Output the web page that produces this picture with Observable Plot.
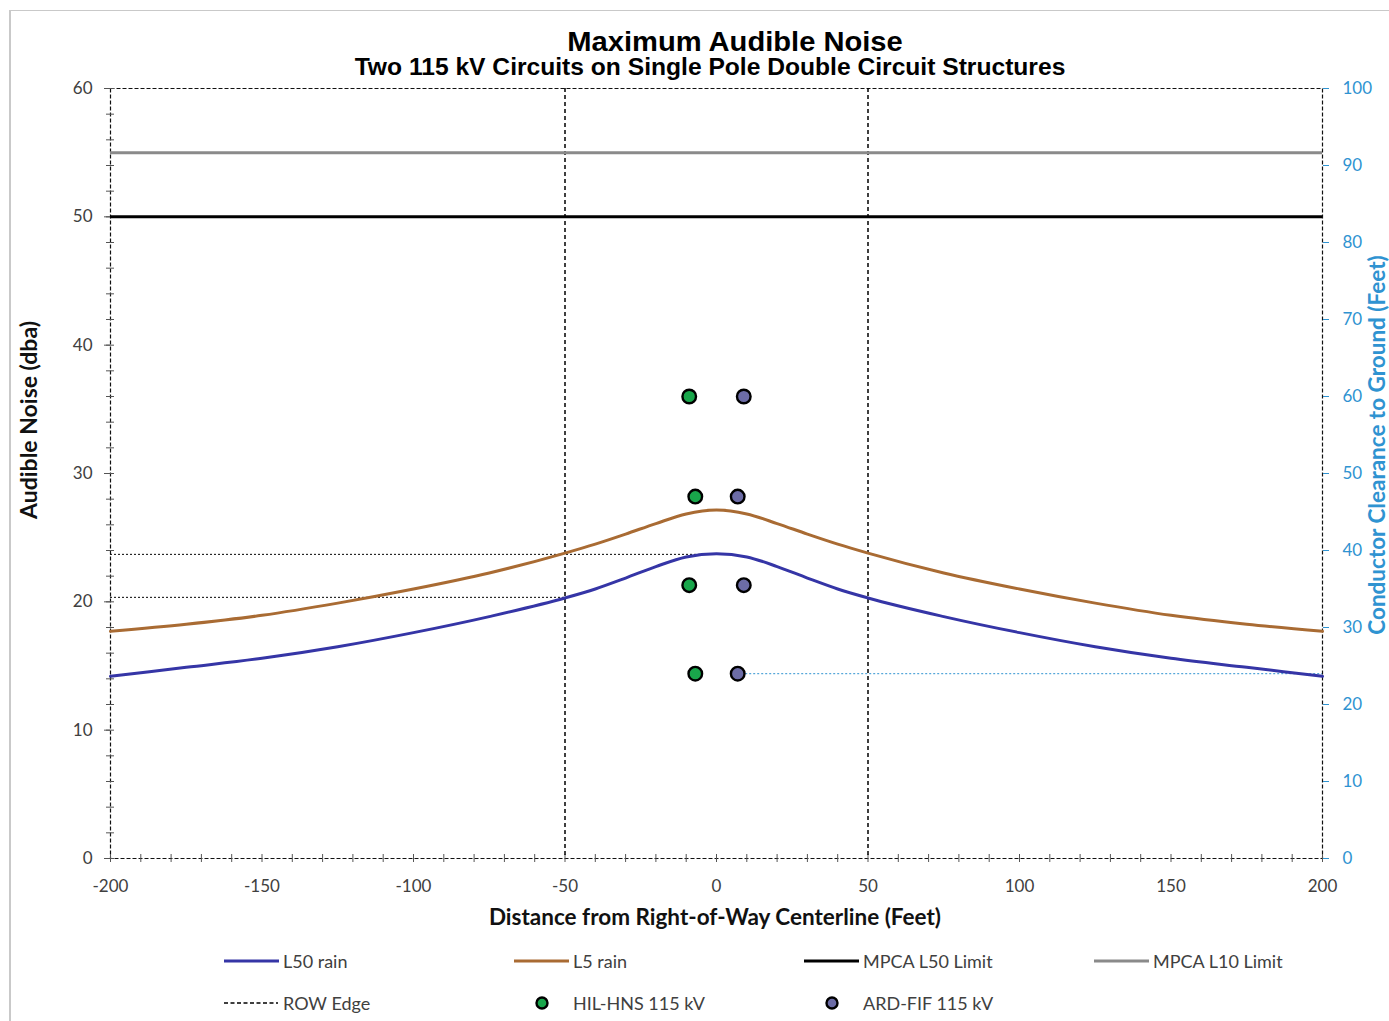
<!DOCTYPE html>
<html>
<head>
<meta charset="utf-8">
<script src="https://cdn.jsdelivr.net/npm/d3@7"></script>
<script src="https://cdn.jsdelivr.net/npm/@observablehq/plot@0.6"></script>
<style>
  html, body { margin: 0; padding: 0; background: #fff; }
  #wrap { position: relative; width: 1389px; height: 1021px; overflow: hidden; }
  #chart { position: absolute; left: 0; top: 0; }
  .abs { position: absolute; white-space: nowrap; }
  .title { font-family: "Liberation Sans", Arial, sans-serif; font-weight: bold; color: #000; line-height: 1; }
  .axt { font-family: Lato, "Open Sans", sans-serif; font-weight: bold; line-height: 1; }
  .leg { font-family: Lato, "Open Sans", sans-serif; font-size: 18px; color: #404040; line-height: 1; }
  #border { position: absolute; left: 9px; top: 10px; width: 1400px; height: 1030px; border-left: 2px solid #c9c9c9; border-top: 1px solid #c9c9c9; }
</style>
</head>
<body>
<div id="wrap">
  <div id="border"></div>
  <div id="chart"></div>
</div>
<script>
// ---- data ----
const distance = [-200,-175,-150,-125,-100,-75,-50,-40,-30,-20,-10,0,10,20,30,40,50,75,100,125,150,175,200];
const l50Rain  = [14.2,14.9,15.6,16.5,17.6,18.85,20.3,21.0,21.85,22.75,23.5,23.75,23.5,22.75,21.85,21.0,20.3,18.85,17.6,16.5,15.6,14.9,14.2];
const l5Rain   = [17.7,18.25,18.95,19.9,21.0,22.25,23.8,24.5,25.28,26.1,26.85,27.15,26.85,26.1,25.28,24.5,23.8,22.25,21.0,19.9,18.95,18.25,17.7];
const mpcaL50Limit = 50;
const mpcaL10Limit = 55;
const rowEdges = [-50, 50];
// conductor positions (x in feet, clearance to ground in feet, right axis)
const hilX  = [-9, -7, -9, -7];
const hilFt = [60, 47, 35.5, 24];
const ardX  = [9, 7, 9, 7];
const ardFt = [60, 47, 35.5, 24];
// reference dotted levels (dba)
const refLevels = [{y: 23.7, x1: -200, x2: 0}, {y: 20.35, x1: -200, x2: -50}];
const clearanceRef = {ft: 24, x1: 7, x2: 200};
const leftTicks = [0,10,20,30,40,50,60];
const xTicks = [-200,-150,-100,-50,0,50,100,150,200];
const rightTicksFt = [0,10,20,30,40,50,60,70,80,90,100];

const ftToDba = ft => ft * 60 / 100;
const blue = "#2f93d1";

const l50Data = distance.map((x, i) => ({x, y: l50Rain[i]}));
const l5Data = distance.map((x, i) => ({x, y: l5Rain[i]}));
const hilData = hilX.map((x, i) => ({x, ft: hilFt[i]}));
const ardData = ardX.map((x, i) => ({x, ft: ardFt[i]}));

const chart = Plot.plot({
  width: 1389,
  height: 1021,
  marginLeft: 110,
  marginRight: 67,
  marginTop: 88,
  marginBottom: 163,
  x: {domain: [-200, 200]},
  y: {domain: [0, 60]},
  style: {fontFamily: "Lato, 'Open Sans', sans-serif", fontSize: "17px", color: "#404040", background: "transparent"},
  marks: [
    Plot.frame({stroke: "#111", strokeDasharray: "4,2", strokeWidth: 1.2}),
    // left axis
    Plot.axisY({ticks: leftTicks, tickSize: 6, tickPadding: 12, label: null, fontSize: 17, stroke: "#555", tickFormat: d => String(d)}),
    Plot.axisY({ticks: d3.range(0, 61, 2), tickSize: 8, dx: 4, tickFormat: () => "", label: null, stroke: "#555"}),
    // right axis
    Plot.axisY({anchor: "right", ticks: rightTicksFt.map(ftToDba), tickFormat: d => String(Math.round(d * 100 / 60)),
      tickSize: 6, tickPadding: 14, label: null, fontSize: 17, fill: blue, stroke: blue}),
    // x axis
    Plot.axisX({ticks: xTicks, tickSize: 0, tickPadding: 21, label: null, fontSize: 17, tickFormat: d => String(d)}),
    Plot.axisX({ticks: d3.range(-200, 201, 10), tickSize: 8, dy: -4, tickFormat: () => "", label: null, stroke: "#555"}),
    // ROW edges
    Plot.ruleX(rowEdges, {stroke: "#000", strokeWidth: 1.5, strokeDasharray: "4,3"}),
    // limits
    Plot.ruleY([mpcaL10Limit], {stroke: "#8a8a8a", strokeWidth: 3}),
    Plot.ruleY([mpcaL50Limit], {stroke: "#000", strokeWidth: 3}),
    // reference dotted lines
    Plot.ruleY(refLevels, {y: "y", x1: "x1", x2: "x2", stroke: "#000", strokeWidth: 1, strokeDasharray: "2,2"}),
    Plot.ruleY([clearanceRef], {y: d => ftToDba(d.ft), x1: "x1", x2: "x2", stroke: blue, strokeWidth: 1, strokeDasharray: "2,2"}),
    // curves
    Plot.line(l5Data, {x: "x", y: "y", stroke: "#a96b33", strokeWidth: 3, curve: "monotone-x"}),
    Plot.line(l50Data, {x: "x", y: "y", stroke: "#3535a6", strokeWidth: 3, curve: "monotone-x"}),
    // conductors
    Plot.dot(hilData, {x: "x", y: d => ftToDba(d.ft), r: 6.8, fill: "#19a64b", stroke: "#000", strokeWidth: 2.4}),
    Plot.dot(ardData, {x: "x", y: d => ftToDba(d.ft), r: 6.8, fill: "#6c6ca6", stroke: "#000", strokeWidth: 2.4})
  ]
});
document.getElementById("chart").appendChild(chart);

const wrap = document.getElementById("wrap");
function add(html, cls, style) {
  const el = document.createElement("div");
  el.className = "abs " + cls;
  el.innerHTML = html;
  Object.assign(el.style, style);
  wrap.appendChild(el);
  return el;
}
// titles
add("Maximum Audible Noise", "title", {left: "735px", top: "28px", fontSize: "28px", transform: "translateX(-50%) scaleX(1.04)"});
add("Two 115 kV Circuits on Single Pole Double Circuit Structures", "title", {left: "710px", top: "56px", fontSize: "23px", transform: "translateX(-50%) scaleX(1.07)"});
// axis titles
add("Distance from Right-of-Way Centerline (Feet)", "axt", {left: "715px", top: "906px", fontSize: "22.5px", color: "#111", transform: "translateX(-50%)"});
add("Audible Noise (dba)", "axt", {left: "28px", top: "420px", fontSize: "23px", color: "#111", transform: "translate(-50%,-50%) rotate(-90deg)"});
add("Conductor Clearance to Ground (Feet)", "axt", {left: "1377px", top: "445px", fontSize: "22.5px", color: blue, transform: "translate(-50%,-50%) rotate(-90deg)"});

// legend
const legendItems = [
  {label: "L50 rain", type: "line", color: "#3535a6", x: 224, y: 961},
  {label: "L5 rain", type: "line", color: "#a96b33", x: 514, y: 961},
  {label: "MPCA L50 Limit", type: "line", color: "#000", x: 804, y: 961},
  {label: "MPCA L10 Limit", type: "line", color: "#8a8a8a", x: 1094, y: 961},
  {label: "ROW Edge", type: "dash", color: "#000", x: 224, y: 1003},
  {label: "HIL-HNS 115 kV", type: "dot", color: "#19a64b", x: 534, y: 1003},
  {label: "ARD-FIF 115 kV", type: "dot", color: "#6c6ca6", x: 824, y: 1003}
];
for (const it of legendItems) {
  let sw, textX;
  if (it.type === "line") {
    sw = `<svg width="56" height="10"><line x1="0" y1="5" x2="55" y2="5" stroke="${it.color}" stroke-width="3"/></svg>`;
    textX = it.x + 59;
  } else if (it.type === "dash") {
    sw = `<svg width="56" height="10"><line x1="0" y1="5" x2="54" y2="5" stroke="${it.color}" stroke-width="1.5" stroke-dasharray="4,2.5"/></svg>`;
    textX = it.x + 59;
  } else {
    sw = `<svg width="16" height="16"><circle cx="8" cy="8" r="5.5" fill="${it.color}" stroke="#000" stroke-width="2.4"/></svg>`;
    textX = it.x + 39;
  }
  add(sw, "", {left: it.x + "px", top: (it.y - (it.type === "dot" ? 8 : 5)) + "px", lineHeight: 0});
  add(it.label, "leg", {left: textX + "px", top: (it.y - 9) + "px"});
}
</script>
</body>
</html>
